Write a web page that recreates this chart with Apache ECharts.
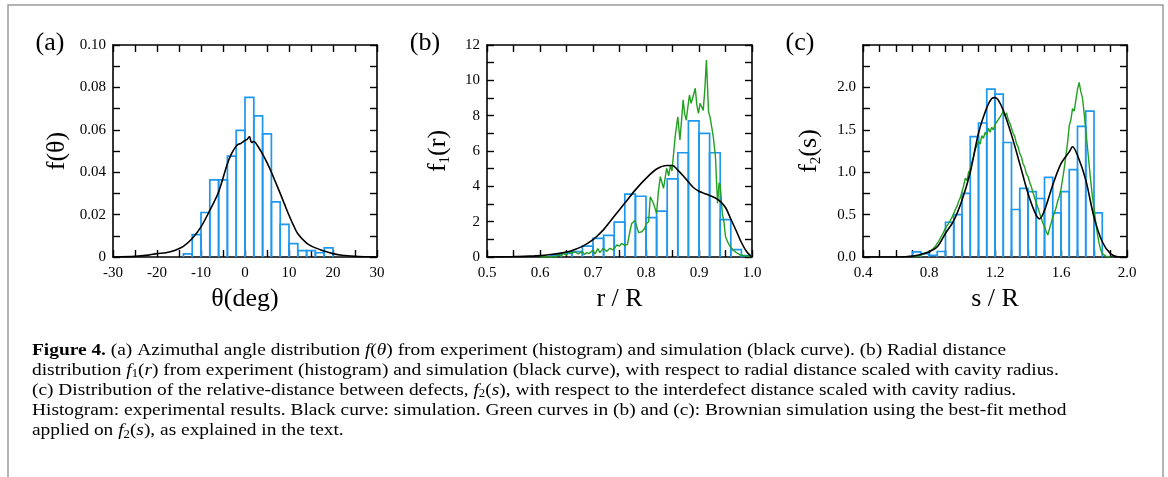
<!DOCTYPE html>
<html><head><meta charset="utf-8">
<script src="https://cdn.jsdelivr.net/npm/echarts@6/dist/echarts.min.js"></script>
<style>html,body{margin:0;padding:0;background:#fff}#c{width:1168px;height:477px}</style>
</head><body><div id="c"></div>
<script>
// ---------- Panel (a): azimuthal angle ----------
const histA_left = [-14,-12,-10,-8,-6,-4,-2,0,2,4,6,8,10,12,14,16,18];
const histA_height = [0.0015,0.0106,0.021,0.0364,0.0364,0.0476,0.0597,0.0753,0.0666,0.0581,0.026,0.0154,0.0063,0.003,0.003,0.002,0.0043];
const histA_width = 2;
const simA_x = [-30,-25,-22,-20,-18,-16,-14,-12,-10,-8,-6,-4,-3,-2,-1.5,-1,0,0.5,1,1.5,2,3,4,5,6,7,8,9,10,11,12,14,16,18,20,22,25,28,30];
const simA_y = [0,0.0003,0.0009,0.0016,0.002,0.0031,0.005,0.0087,0.0142,0.022,0.0307,0.044,0.049,0.0523,0.0532,0.0535,0.055,0.0555,0.0568,0.054,0.0545,0.052,0.0485,0.0445,0.040,0.035,0.030,0.0248,0.0197,0.015,0.011,0.0066,0.0043,0.0028,0.0016,0.0008,0.0003,0.0001,0];

// ---------- Panel (b): radial distance ----------
const histB_left = [0.62,0.64,0.66,0.68,0.70,0.72,0.74,0.76,0.78,0.80,0.82,0.84,0.86,0.88,0.90,0.92,0.94,0.96,0.98];
const histB_height = [0.1,0.2,0.3,0.62,1.05,1.22,1.97,3.56,3.44,2.23,2.6,4.42,5.9,7.71,7.0,5.9,2.12,0.42,0.08];
const histB_width = 0.02;
const simB_x = [0.5,0.55,0.58,0.6,0.62,0.64,0.65,0.66,0.68,0.70,0.713,0.72,0.74,0.76,0.78,0.80,0.82,0.84,0.85,0.86,0.87,0.88,0.89,0.90,0.91,0.92,0.93,0.94,0.95,0.96,0.97,0.98,0.99,1.0];
const simB_y = [0,0.02,0.05,0.08,0.14,0.22,0.28,0.36,0.6,0.98,1.34,1.55,2.3,3.05,3.8,4.45,4.98,5.18,5.18,4.92,4.6,4.25,3.92,3.72,3.6,3.48,3.35,3.15,2.8,2.15,1.5,0.82,0.3,0];
const brownB_x = [0.60,0.63,0.635,0.64,0.644,0.65,0.653,0.66,0.666,0.672,0.679,0.684,0.688,0.693,0.699,0.704,0.709,0.713,0.719,0.726,0.732,0.738,0.745,0.750,0.754,0.760,0.765,0.770,0.773,0.779,0.786,0.792,0.797,0.801,0.805,0.808,0.814,0.820,0.823,0.827,0.833,0.839,0.843,0.846,0.849,0.855,0.860,0.864,0.867,0.870,0.873,0.876,0.879,0.882,0.885,0.887,0.890,0.893,0.896,0.899,0.902,0.905,0.908,0.911,0.914,0.918,0.921,0.923,0.927,0.931,0.935,0.938,0.940,0.944,0.947,0.950,0.955,0.959,0.963,0.968,0.973,0.978,0.985,0.991,1.0];
const brownB_y = [0,0,0.15,0.05,0.21,0.1,0.3,0.21,0.3,0.17,0.3,0.15,0.25,0.2,0.36,0.18,0.48,0.25,0.49,0.32,0.49,0.40,0.68,0.62,0.77,0.65,0.72,1.5,1.9,2.06,1.38,1.43,1.6,1.9,2.0,3.41,3.04,2.47,3.6,4.55,3.89,5.02,4.6,5.2,4.87,6.81,7.94,6.62,7.7,8.89,8.1,7.75,8.5,9.17,8.7,8.89,9.0,9.55,8.6,8.13,8.7,8.6,8.3,9.5,11.15,8.22,7.9,7.85,6.8,5.68,3.04,4.2,4.07,2.47,2.0,1.15,0.8,0.58,0.45,0.3,0.2,0.11,0.08,0.06,0];

// ---------- Panel (c): interdefect distance ----------
const histC_left = [0.70,0.75,0.80,0.85,0.90,0.95,1.00,1.05,1.10,1.15,1.20,1.25,1.30,1.35,1.40,1.45,1.50,1.55,1.60,1.65,1.70,1.75,1.80];
const histC_height = [0.06,0.04,0.02,0.065,0.41,0.50,0.75,1.42,1.58,1.98,1.92,1.35,0.56,0.81,0.77,0.69,0.94,0.52,0.77,1.03,1.54,1.72,0.52];
const histC_width = 0.05;
const simC_x = [0.4,0.6,0.65,0.7,0.75,0.8,0.85,0.9,0.95,1.0,1.05,1.1,1.15,1.18,1.2,1.22,1.25,1.3,1.35,1.4,1.45,1.47,1.5,1.55,1.6,1.65,1.67,1.7,1.75,1.8,1.85,1.9,1.95,2.0];
const simC_y = [0,0,0.003,0.01,0.03,0.06,0.12,0.28,0.43,0.67,1.0,1.46,1.76,1.87,1.88,1.85,1.73,1.44,1.1,0.75,0.49,0.45,0.55,0.85,1.1,1.24,1.3,1.2,0.91,0.47,0.18,0.04,0,0];
const brownC_x = [0.70,0.71,0.72,0.73,0.74,0.75,0.76,0.77,0.78,0.79,0.80,0.81,0.82,0.83,0.84,0.85,0.86,0.87,0.88,0.89,0.90,0.91,0.92,0.93,0.94,0.95,0.96,0.97,0.98,0.99,1.00,1.01,1.02,1.03,1.04,1.05,1.06,1.07,1.08,1.09,1.10,1.11,1.12,1.13,1.14,1.15,1.16,1.17,1.18,1.19,1.20,1.21,1.22,1.23,1.24,1.25,1.26,1.27,1.28,1.29,1.30,1.31,1.32,1.33,1.34,1.35,1.36,1.37,1.38,1.39,1.40,1.41,1.42,1.43,1.44,1.45,1.46,1.47,1.48,1.49,1.50,1.51,1.52,1.53,1.54,1.55,1.56,1.57,1.58,1.59,1.60,1.61,1.62,1.63,1.64,1.65,1.66,1.67,1.68,1.69,1.70,1.71,1.72,1.73,1.74,1.75,1.76,1.77,1.78,1.79,1.80,1.81,1.82,1.83,1.84,1.85,1.86,1.87,1.88,1.90];
const brownC_y = [0,0.01,0.01,0.02,0.01,0.02,0.03,0.03,0.05,0.04,0.06,0.07,0.09,0.10,0.13,0.15,0.19,0.21,0.26,0.28,0.34,0.36,0.40,0.42,0.47,0.49,0.56,0.60,0.66,0.70,0.77,0.84,0.93,0.90,1.00,1.03,1.12,1.18,1.27,1.31,1.36,1.33,1.43,1.40,1.47,1.44,1.52,1.47,1.53,1.50,1.56,1.58,1.62,1.60,1.68,1.72,1.66,1.70,1.62,1.58,1.52,1.46,1.42,1.34,1.30,1.22,1.18,1.10,1.06,0.98,0.95,0.88,0.83,0.76,0.70,0.64,0.58,0.52,0.46,0.40,0.36,0.30,0.26,0.33,0.40,0.47,0.52,0.58,0.66,0.72,0.80,0.92,1.05,1.20,1.35,1.55,1.62,1.75,1.72,1.85,1.98,2.06,1.95,1.88,1.70,1.50,1.30,1.10,0.90,0.72,0.58,0.42,0.28,0.17,0.09,0.04,0.02,0.01,0.01,0];

// ---------- Axis ranges / tick spacing ----------
const axesA = {xmin:-30,xmax:30,xstep:5,ymin:0,ymax:0.1,ystep:0.01};
const axesB = {xmin:0.5,xmax:1.0,xstep:0.05,ymin:0,ymax:12,ystep:1};
const axesC = {xmin:0.4,xmax:2.0,xstep:0.1,ymin:0,ymax:2.5,ystep:0.25};

const SERIF = '"Liberation Serif","Times New Roman",serif';
const chart = echarts.init(document.getElementById('c'), null, {renderer:'canvas'});

const near = (v, m) => Math.abs(v/m - Math.round(v/m)) < 1e-6;
const fmtAX = v => near(v,10) ? String(Math.round(v)) : '';
const fmtAY = v => near(v,0.02) ? (Math.abs(v)<1e-9 ? '0' : v.toFixed(2)) : '';
const fmtBX = v => near(v,0.1) ? v.toFixed(1) : '';
const fmtBY = v => near(v,2) ? String(Math.round(v)) : '';
const fmtCX = v => near(v,0.4) ? v.toFixed(1) : '';
const fmtCY = v => (near(v,0.5) && v < 2.4) ? v.toFixed(1) : '';

const grids = [
  {left:113, top:45, width:264, height:212},
  {left:487, top:45, width:265, height:212},
  {left:863, top:45, width:264, height:212}
];
const lineStyle = {color:'#000', width:1.6};
function xAx(g, ax, fmt, name, pos){
  const top = pos === 'top';
  return {type:'value', gridIndex:g, position:pos, min:ax.xmin, max:ax.xmax, interval:ax.xstep,
    axisLine:{show:true, onZero:false, lineStyle}, splitLine:{show:false},
    axisTick:{show:true, inside:true, length:7, lineStyle:{color:'#000',width:1.4}},
    axisLabel:{show:!top, formatter:fmt, margin:9, color:'#000', fontFamily:SERIF, fontSize:15, showMinLabel:true, showMaxLabel:true},
    name: top ? '' : name, nameLocation:'middle', nameGap:29,
    nameTextStyle:{color:'#000', fontFamily:SERIF, fontSize:26}
  };
}
function yAx(g, ax, fmt, name, pos, gap){
  const right = pos === 'right';
  return {type:'value', gridIndex:g, position:pos, min:ax.ymin, max:ax.ymax, interval:ax.ystep,
    axisLine:{show:true, onZero:false, lineStyle}, splitLine:{show:false},
    axisTick:{show:true, inside:true, length:7, lineStyle:{color:'#000',width:1.4}},
    axisLabel:{show:!right, formatter:fmt, margin:7, color:'#000', fontFamily:SERIF, fontSize:15, showMinLabel:true, showMaxLabel:true},
    name: right ? '' : name, nameLocation:'middle', nameGap:gap, nameRotate:90,
    nameTextStyle:{color:'#000', fontFamily:SERIF, fontSize:26, rich:{t:{fontSize:26, fontFamily:SERIF}, s:{fontSize:15, fontFamily:SERIF, padding:[14,0,0,0]}}}
  };
}

function histData(left, h, w){ return left.map((x,i)=>[x, x+w, h[i]]); }
function histRender(params, api){
  const x0 = api.value(0), x1 = api.value(1), h = api.value(2);
  const pts = [api.coord([x0,0]), api.coord([x0,h]), api.coord([x1,h]), api.coord([x1,0])];
  return {type:'polyline', shape:{points:pts}, style:{fill:null, stroke:'#1e98ee', lineWidth:1.7}};
}
function histSeries(i, left, h, w){
  return {type:'custom', xAxisIndex:2*i, yAxisIndex:2*i, renderItem:histRender,
    data:histData(left,h,w), encode:{x:[0,1], y:2}, clip:true, z:2, silent:true};
}
function lineSeries(i, xs, ys, color, width, smooth, z){
  return {type:'line', xAxisIndex:2*i, yAxisIndex:2*i, data:xs.map((x,k)=>[x,ys[k]]),
    showSymbol:false, symbol:'none', smooth:smooth, lineStyle:{color, width}, z, silent:true, clip:true, animation:false};
}

const captionLines = [
  '{b|Figure 4.} (a) Azimuthal angle distribution {i|f}({i|θ}) from experiment (histogram) and simulation (black curve). (b) Radial distance',
  'distribution {i|f}{s|1}({i|r}) from experiment (histogram) and simulation (black curve), with respect to radial distance scaled with cavity radius.',
  '(c) Distribution of the relative-distance between defects, {i|f}{s|2}({i|s}), with respect to the interdefect distance scaled with cavity radius.',
  'Histogram: experimental results. Black curve: simulation. Green curves in (b) and (c): Brownian simulation using the best-fit method',
  'applied on {i|f}{s|2}({i|s}), as explained in the text.'
];
const capFont = 17.5;
const capRich = {
  b:{fontFamily:SERIF, fontSize:capFont, fontWeight:'bold', fill:'#000'},
  i:{fontFamily:SERIF, fontSize:capFont, fontStyle:'italic', fill:'#000'},
  s:{fontFamily:SERIF, fontSize:11.5, fill:'#000', padding:[8,0,0,0]}
};
const graphics = [
  {type:'rect', x:8, y:5, shape:{x:0,y:0,width:1155,height:490}, style:{fill:null, stroke:'#9a9a9a', lineWidth:1.5}, silent:true},
  {type:'text', x:50, y:43, style:{text:'(a)', font:'26px '+SERIF, fill:'#000', align:'center', verticalAlign:'middle'}},
  {type:'text', x:425, y:43, style:{text:'(b)', font:'26px '+SERIF, fill:'#000', align:'center', verticalAlign:'middle'}},
  {type:'text', x:800, y:43, style:{text:'(c)', font:'26px '+SERIF, fill:'#000', align:'center', verticalAlign:'middle'}}
];
captionLines.forEach((t,k)=>{
  graphics.push({type:'text', x:32, y:350 + 20.2*k, scaleX:1.108, style:{text:t, fontFamily:SERIF, fontSize:capFont, fill:'#000', verticalAlign:'middle', rich:capRich}});
});

chart.setOption({
  animation:false,
  grid:grids,
  xAxis:[
    xAx(0, axesA, fmtAX, 'θ(deg)', 'bottom'), xAx(0, axesA, fmtAX, '', 'top'),
    xAx(1, axesB, fmtBX, 'r / R', 'bottom'), xAx(1, axesB, fmtBX, '', 'top'),
    xAx(2, axesC, fmtCX, 's / R', 'bottom'), xAx(2, axesC, fmtCX, '', 'top')
  ],
  yAxis:[
    yAx(0, axesA, fmtAY, 'f(θ)', 'left', 43), yAx(0, axesA, fmtAY, '', 'right', 0),
    yAx(1, axesB, fmtBY, '{t|f}{s|1}{t|(r)}', 'left', 34), yAx(1, axesB, fmtBY, '', 'right', 0),
    yAx(2, axesC, fmtCY, '{t|f}{s|2}{t|(s)}', 'left', 39), yAx(2, axesC, fmtCY, '', 'right', 0)
  ],
  series:[
    histSeries(0, histA_left, histA_height, histA_width),
    lineSeries(0, simA_x, simA_y, '#000', 1.6, 0.3, 4),
    histSeries(1, histB_left, histB_height, histB_width),
    lineSeries(1, brownB_x, brownB_y, '#22a022', 1.4, false, 3),
    lineSeries(1, simB_x, simB_y, '#000', 1.6, 0.3, 4),
    histSeries(2, histC_left, histC_height, histC_width),
    lineSeries(2, brownC_x, brownC_y, '#22a022', 1.4, false, 3),
    lineSeries(2, simC_x, simC_y, '#000', 1.6, 0.3, 4)
  ],
  graphic:graphics
});
</script></body></html>
